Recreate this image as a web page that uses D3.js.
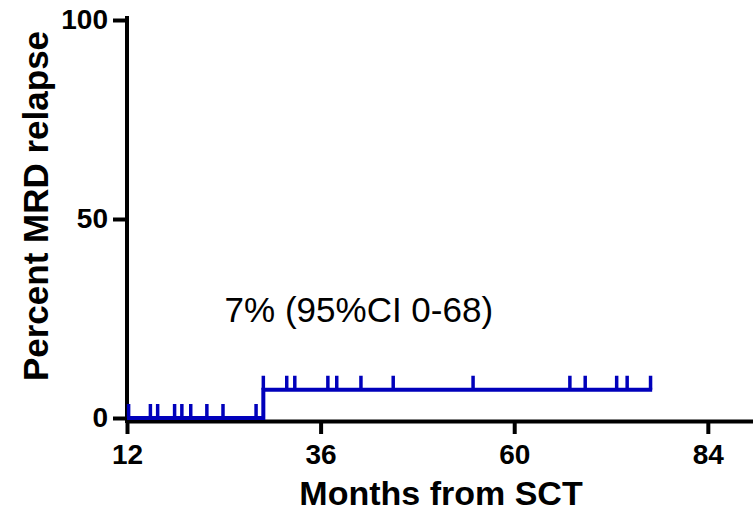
<!DOCTYPE html>
<html>
<head>
<meta charset="utf-8">
<script src="https://cdn.jsdelivr.net/npm/d3@7"></script>
<style>
  body { margin: 0; background: #fff; }
  svg { display: block; font-family: "Liberation Sans", Arial, sans-serif; }
  .axis path, .axis line { stroke: #000; stroke-width: 4; }
  .axis text { font-size: 28px; font-weight: bold; fill: #000; }
</style>
</head>
<body>
<div id="chart"></div>
<script>
const width = 753;
const height = 512;

// step curve: level (percent relapse) from each month on
const stepMonths = [12, 28.9, 77.1];
const stepPercent = [0, 7.1, 7.1];
// censored patients
const censorMonths = [12.2, 14.9, 15.8, 17.9, 18.8, 19.9, 21.9, 23.9, 28.0,
                      28.9, 31.8, 32.8, 36.9, 38.0, 41.0, 45.0, 54.9, 66.9, 68.8, 72.7, 74.0, 76.9];
const xTicks = [12, 36, 60, 84];
const yTicks = [0, 50, 100];
const annotation = "7% (95%CI 0-68)";

const x = d3.scaleLinear().domain([12, 89.6]).range([127, 753]);
const y = d3.scaleLinear().domain([0, 100]).range([418, 20]);

const svg = d3.select("#chart").append("svg")
  .attr("width", width)
  .attr("height", height);

// percent at month m from the step function
const levelAt = m => {
  let v = 0;
  stepMonths.forEach((t, i) => { if (t <= m) v = stepPercent[i]; });
  return v;
};

const pts = stepMonths.map((t, i) => [t, stepPercent[i]]);
pts.unshift([stepMonths[0], 0]);

const xAxis = svg.append("g")
  .attr("class", "axis")
  .attr("transform", `translate(0, ${y(0) + 3})`)
  .call(d3.axisBottom(x).tickValues(xTicks).tickSize(13).tickSizeOuter(0).tickPadding(10));
xAxis.selectAll("text").attr("font-size", 27);

const yAxis = svg.append("g")
  .attr("class", "axis")
  .attr("transform", `translate(${x(12)}, 0)`)
  .call(d3.axisLeft(y).tickValues(yTicks).tickSize(14).tickSizeOuter(0).tickPadding(5));
yAxis.select(".domain").attr("d", `M0,${y(100) - 4}V${y(0) + 5}`);

const line = d3.line()
  .x(d => x(d[0]))
  .y(d => y(d[1]))
  .curve(d3.curveStepAfter);

svg.append("path")
  .datum(pts)
  .attr("fill", "none")
  .attr("stroke", "#0000bb")
  .attr("stroke-width", 4)
  .attr("d", line);

svg.selectAll(".censor")
  .data(censorMonths)
  .enter()
  .append("line")
  .attr("class", "censor")
  .attr("x1", d => x(d))
  .attr("x2", d => x(d))
  .attr("y1", d => y(levelAt(d)))
  .attr("y2", d => y(levelAt(d)) - 14)
  .attr("stroke", "#0000bb")
  .attr("stroke-width", 3.5);

svg.append("text")
  .attr("x", x(24.1))
  .attr("y", y(24))
  .attr("font-size", 35)
  .attr("fill", "#000")
  .text(annotation);

svg.append("text")
  .attr("x", 441)
  .attr("y", 505)
  .attr("text-anchor", "middle")
  .attr("font-size", 34)
  .attr("font-weight", "bold")
  .text("Months from SCT");

svg.append("text")
  .attr("transform", "translate(48, 206) rotate(-90)")
  .attr("text-anchor", "middle")
  .attr("font-size", 35)
  .attr("font-weight", "bold")
  .text("Percent MRD relapse");
</script>
</body>
</html>
